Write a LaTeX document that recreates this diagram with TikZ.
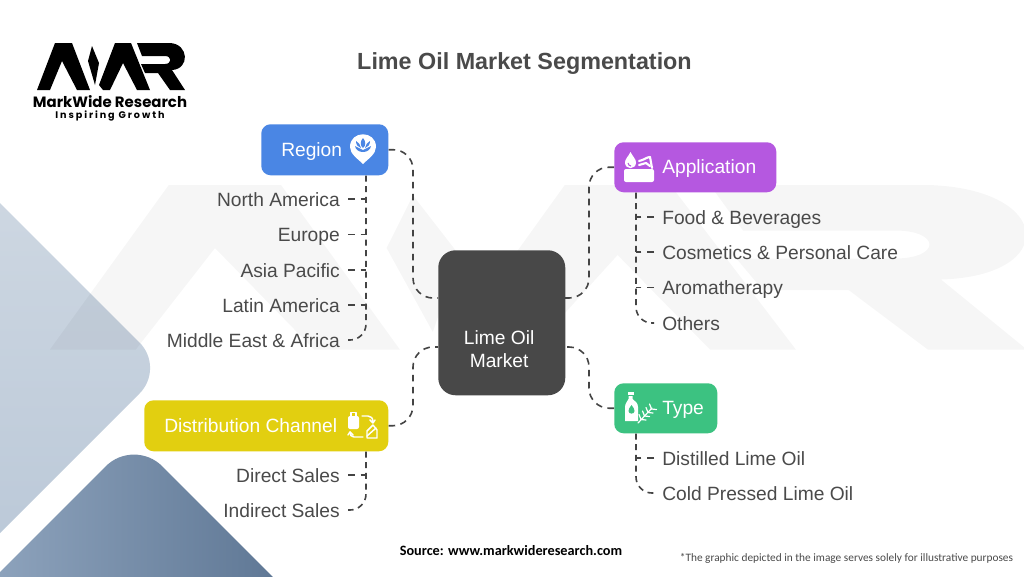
\documentclass[tikz,border=0pt]{standalone}
\usepackage{fontspec}
\setmainfont{Liberation Sans}
\newfontfamily\popf{Poppins}
\newfontfamily\carl{Carlito}
\definecolor{ink}{HTML}{4A4A4A}
\definecolor{linec}{HTML}{444444}
\definecolor{regc}{HTML}{4A86E4}
\definecolor{appc}{HTML}{B558E0}
\definecolor{typc}{HTML}{3CC281}
\definecolor{disc}{HTML}{E2CF10}
\definecolor{cenc}{HTML}{484848}
\definecolor{shA}{HTML}{D0D9E3}
\definecolor{shB}{HTML}{B9C7D7}
\definecolor{shC}{HTML}{93A8C1}
\definecolor{shD}{HTML}{58718F}
\newcommand{\logoshape}{%
 (0,47) -- (18,0) -- (35,0) -- (53,47) -- (40,47) -- (25,18) -- (13,47) -- cycle
 (55,3) -- (62,20) -- (58,42) -- (51,18) -- cycle
 (62,42) -- (78,0) -- (94,0) -- (113,47) -- (100,47) -- (86,20) -- (73,47) -- (66,47) -- cycle
 (100,0) -- (133,0) .. controls (152,1) and (153,26) .. (135,27) -- (148,47) -- (133,47) -- (121,30) -- (108,30) -- (104,21) -- (128,21) .. controls (135,21) and (135,13) .. (128,13) -- (105,13) -- cycle}
\newcommand{\hubtext}[3]{\makebox[#1][l]{\rule{0pt}{9.75pt}\hspace{#2}\smash{#3}}}
\tikzset{
 conn/.style={draw=linec,line width=1.2pt,dash pattern=on 5pt off 4pt,rounded corners=15pt},
 tree/.style={draw=linec,line width=1.2pt,dash pattern=on 4.5pt off 3.5pt,rounded corners=12pt},
 branch/.style={draw=linec,line width=1.2pt,dash pattern=on 5.5pt off 4pt},
 hub/.style={rectangle,rounded corners=7pt,inner sep=0pt,text=white,font=\fontsize{14.4}{18}\selectfont,anchor=north west},
 itemr/.style={anchor=east,inner ysep=0pt,inner xsep=6pt,text=ink,text height=11pt,text depth=0pt,font=\fontsize{14.4}{18}\selectfont},
 iteml/.style={anchor=west,inner ysep=0pt,inner xsep=6pt,text=ink,text height=11pt,text depth=0pt,font=\fontsize{14.4}{18}\selectfont},
 iconline/.style={draw=white,line width=1.1pt,line cap=round,line join=round},
}
\begin{document}
\begin{tikzpicture}[x=0.75pt,y=-0.75pt]
\useasboundingbox (0,0) rectangle (1024,576);
\fill[white] (0,0) rectangle (1024,576);
% background shapes
\begin{scope}
\clip (0,0) rectangle (1024,576);
\path[top color=shA,bottom color=shB,rounded corners=27pt] (-60,143) -- (165,368) -- (-60,593) -- cycle;
\path[left color=shC,right color=shD,rounded corners=30pt] (-40,612) -- (134,438) -- (320,624) -- cycle;
\end{scope}
% watermark
\begin{scope}[shift={(50,185)},x=4.95pt,y=-2.625pt]
\fill[black,fill opacity=0.035] \logoshape;
\end{scope}
% logo
\begin{scope}[shift={(37,43)},x=0.75pt,y=-0.75pt]
\fill[black] \logoshape;
\end{scope}
\node[inner sep=0pt,text=black,font=\popf\bfseries\fontsize{11.2}{12}\selectfont] (brand) at (110,101.5) {MarkWide Research};
\node[inner sep=0pt,text=black,font=\popf\fontsize{7.2}{9}\selectfont\bfseries\addfontfeature{LetterSpace=20}] (slogan) at (110,115.5) {Inspiring Growth};
% title
\node[inner sep=0pt,text=ink,font=\bfseries\fontsize{17.5}{21}\selectfont] (title) at (524.5,63.5) {Lime Oil Market Segmentation};
% hubs
\node[hub,fill=regc,minimum width=95.25pt,minimum height=38.25pt] (region) at (261,124) {\hubtext{95.25pt}{15pt}{Region}};
\node[hub,fill=appc,minimum width=121.5pt,minimum height=37.5pt] (application) at (614,142) {\hubtext{121.5pt}{36pt}{Application}};
\node[hub,fill=typc,minimum width=77.25pt,minimum height=37.5pt] (type) at (614,383) {\hubtext{77.25pt}{36pt}{Type}};
\node[hub,fill=disc,minimum width=183pt,minimum height=38.25pt] (distribution) at (144,400) {\hubtext{183pt}{15pt}{Distribution Channel}};
\node[hub,fill=cenc,rounded corners=13pt,minimum width=95.25pt,minimum height=108.75pt] (center) at (438,250) {\hspace*{-4pt}\smash{\raisebox{-23.5pt}{\parbox[c]{90pt}{\centering\fontsize{14.4}{17.5}\selectfont Lime Oil\\Market}}}};
% attachment points on the central box
\coordinate (cLa) at (438,298);
\coordinate (cLb) at (438,347);
\coordinate (cRa) at (565,298);
\coordinate (cRb) at (565,347);
% main connectors
\draw[conn] (region.east) -- (413,149.5) -- (413,298) -- (cLa);
\draw[conn] (distribution.east) -- (413,425.5) -- (413,347) -- (cLb);
\draw[conn] (application.west) -- (589,167) -- (589,298) -- (cRa);
\draw[conn] (type.west) -- (589,408) -- (589,347) -- (cRb);
% lists
\node[itemr] (na) at (348,199) {North America};
\node[itemr] (eu) at (348,234.5) {Europe};
\node[itemr] (ap) at (348,270) {Asia Pacific};
\node[itemr] (la) at (348,305) {Latin America};
\node[itemr] (me) at (348,340) {Middle East \& Africa};
\node[itemr] (ds) at (348,475) {Direct Sales};
\node[itemr] (is) at (348,510) {Indirect Sales};
\node[iteml] (fb) at (654,217) {Food \& Beverages};
\node[iteml] (cp) at (654,252) {Cosmetics \& Personal Care};
\node[iteml] (ar) at (654,287.5) {Aromatherapy};
\node[iteml] (ot) at (654,323) {Others};
\node[iteml] (dl) at (654,458) {Distilled Lime Oil};
\node[iteml] (cl) at (654,493) {Cold Pressed Lime Oil};
% trees
\draw[tree] (region.south -| 366,0) -- (366,340) -- (me.east);
\draw[tree] (distribution.south -| 366,0) -- (366,510) -- (is.east);
\draw[tree] (application.south -| 636,0) -- (636,323) -- (ot.west);
\draw[tree] (type.south -| 636,0) -- (636,493) -- (cl.west);
\foreach \n in {na,eu,ap,la,ds} \draw[branch] (\n.east) -- (\n.east -| 366,0);
\foreach \n in {fb,cp,ar,dl} \draw[branch] (\n.west) -- (\n.west -| 636,0);
% region icon
\fill[white] (363,164) .. controls (358,159) and (350,154) .. (350,147) .. controls (350,130) and (376,130) .. (376,147) .. controls (376,154) and (368,159) .. (363,164) -- cycle;
\fill[regc] (355,146) .. controls (356,154) and (370,154) .. (371,146) -- (363,150) -- cycle;
\fill[regc] (363,138) .. controls (360,141) and (360,146) .. (363,148) .. controls (366,146) and (366,141) .. (363,138) -- cycle;
\fill[regc] (356,141) .. controls (356,145) and (358,147) .. (361,148) .. controls (360,145) and (359,142) .. (356,141) -- cycle;
\fill[regc] (370,141) .. controls (370,145) and (368,147) .. (365,148) .. controls (366,145) and (367,142) .. (370,141) -- cycle;
% application icon
\fill[white,rounded corners=1.5pt] (624,169) rectangle (654,182);
\fill[white] (630.5,152) .. controls (628,157) and (625,159) .. (625,162.5) .. controls (625,170) and (636,170) .. (636,162.5) .. controls (636,159) and (633,157) .. (630.5,152) -- cycle;
\draw[appc,line width=0.8pt] (628,163) .. controls (628,165) and (630,166) .. (631,166);
\draw[iconline,line width=1.6pt] (639,161) .. controls (644,160) and (647,157) .. (650,157) -- (652,168);
\draw[iconline,line width=1.6pt] (639,165) -- (646,163) -- (650,166);
% distribution icon
\draw[iconline] (351,416) -- (351,412.5) -- (356,412.5) -- (356,416);
\fill[white,rounded corners=1.5pt] (348,416) rectangle (359,429);
\draw[iconline] (362,416) -- (368,416) .. controls (371,416) and (373,418) .. (373,422);
\draw[iconline] (370,420) -- (373,423) -- (375,420);
\draw[iconline] (363,437) -- (354,437) .. controls (351,437) and (350,435) .. (350,432);
\draw[iconline] (348,435) -- (350,432) -- (353,435);
\draw[iconline] (367,438) -- (367,431) -- (373,425) -- (377,430) -- (377,438) -- cycle;
\draw[iconline] (367,436) -- (376,428);
% type icon
\fill[white] (627.5,392) rectangle (633.5,395);
\fill[white] (628.5,396) -- (632.5,396) -- (632.5,399) .. controls (635,401) and (638,403) .. (638,407) -- (638,421) -- (625,421) -- (625,407) .. controls (625,403) and (628,401) .. (628.5,399) -- cycle;
\fill[typc] (631.5,405) .. controls (629.5,408) and (628.5,409) .. (628.5,411) .. controls (628.5,414.5) and (634.5,414.5) .. (634.5,411) .. controls (634.5,409) and (633.5,408) .. (631.5,405) -- cycle;
\draw[iconline,line width=0.9pt] (638,423) -- (652,408);
\foreach \t in {0,3.5,7,10.5}{
 \draw[iconline,line width=0.9pt] (641+\t,419.5-\t) -- (639+\t,414.5-\t);
 \draw[iconline,line width=0.9pt] (641+\t,419.5-\t) -- (646+\t,420-\t);
}
% footer
\node[inner sep=0pt,text=black,font=\carl\bfseries\fontsize{10.7}{12}\selectfont] (source) at (511,551) {Source: www.markwideresearch.com};
\node[inner sep=0pt,text=ink,font=\carl\fontsize{8.5}{10}\selectfont] (note) at (846.5,558) {*The graphic depicted in the image serves solely for illustrative purposes};
\end{tikzpicture}
\end{document}
